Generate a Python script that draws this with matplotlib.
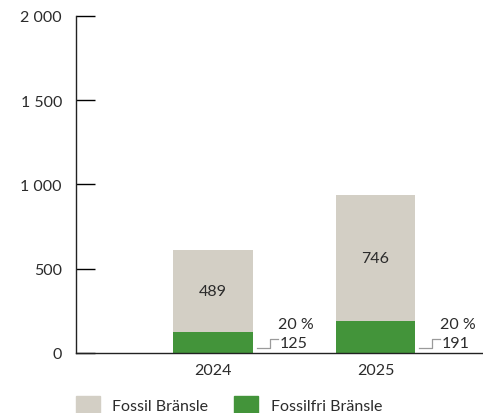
import matplotlib.pyplot as plt
from matplotlib.patches import Patch

plt.rcParams['font.family'] = ['Lato', 'DejaVu Sans']

# data
years = ['2024', '2025']
fossilfri = [125, 191]
fossil = [489, 746]
share = ['20 %', '20 %']
yticks = [0, 500, 1000, 1500, 2000]
ytick_labels = ['0', '500', '1 000', '1 500', '2 000']

grey = '#d3cfc5'
green = '#43943a'
txt = '#2b2b2b'
fs = 11.5

fig = plt.figure(figsize=(4.83, 4.14), dpi=100)
ax = fig.add_axes([0.157, 0.145, 0.843, 0.814])

x = list(range(len(years)))
w = 0.49
ax.bar(x, fossilfri, width=w, color=green, zorder=2)
ax.bar(x, fossil, width=w, bottom=fossilfri, color=grey, zorder=2)

for i in x:
    # value label in the grey part
    ax.text(i, fossilfri[i] + fossil[i] / 2, str(fossil[i]), ha='center', va='center',
            fontsize=fs, color=txt)
    # little step connector + labels for green part
    r = i + w / 2
    ax.plot([r + 0.025, r + 0.105, r + 0.105, r + 0.154], [30, 30, 83, 83],
            color='#9a9a9a', lw=0.9, clip_on=False, zorder=3)
    ax.text(r + 0.165, 57, str(fossilfri[i]), ha='left', va='center', fontsize=fs, color=txt)
    ax.text(r + 0.155, 170, share[i], ha='left', va='center', fontsize=fs, color=txt)

ax.set_xlim(-0.843, 1.662)
ax.set_ylim(0, 2000)
ax.set_xticks(x)
ax.set_xticklabels(years)
ax.set_yticks(yticks)
ax.set_yticklabels(ytick_labels)
ax.tick_params(axis='y', direction='in', length=14, width=1, pad=10, labelsize=fs, labelcolor=txt)
ax.tick_params(axis='x', length=0, pad=7, labelsize=fs, labelcolor=txt)
for s in ['top', 'right']:
    ax.spines[s].set_visible(False)
for s in ['left', 'bottom']:
    ax.spines[s].set_linewidth(1)
    ax.spines[s].set_color('#222222')

handles = [Patch(color=grey, label='Fossil Bränsle'), Patch(color=green, label='Fossilfri Bränsle')]
fig.legend(handles=handles, loc='lower left', bbox_to_anchor=(0.127, -0.035), ncol=2,
           frameon=False, fontsize=fs, handlelength=1.5, handleheight=1.3,
           handletextpad=0.8, columnspacing=1.6, labelcolor=txt)

fig.savefig('out.png', dpi=100)
